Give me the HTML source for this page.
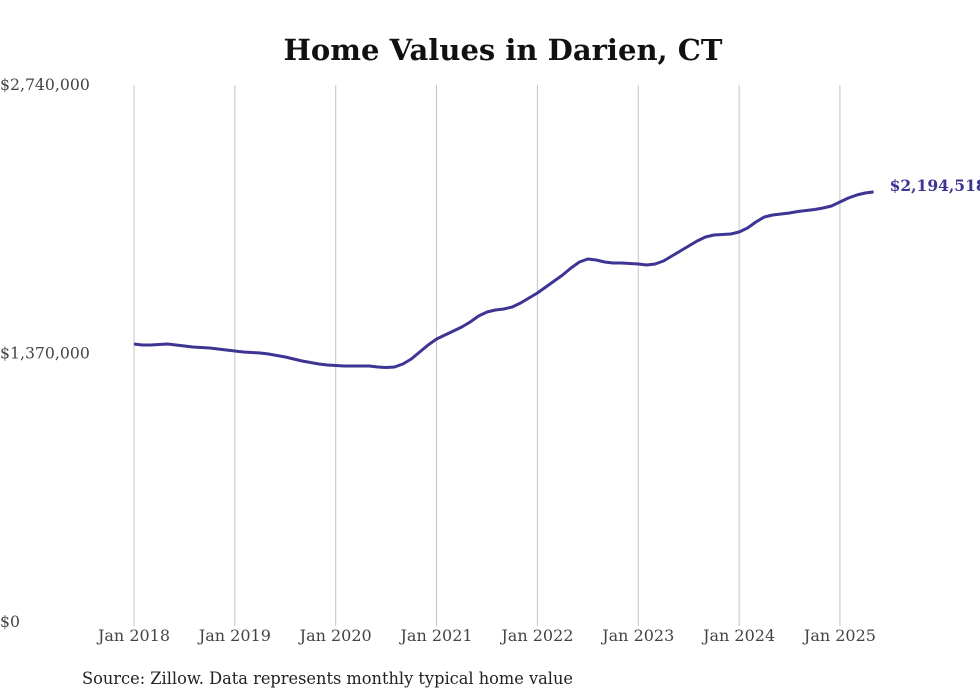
<!DOCTYPE html>
<html><head><meta charset="utf-8"><style>
html,body{margin:0;padding:0;background:#fff;width:980px;height:699px;overflow:hidden}
svg text{font-family:"DejaVu Serif","Liberation Serif",serif}
</style></head><body>
<svg id="chart" width="980" height="699" viewBox="0 0 980 699">
<text x="503" y="60" text-anchor="middle" font-size="29" font-weight="bold" fill="#111" textLength="439" lengthAdjust="spacingAndGlyphs">Home Values in Darien, CT</text>
<g id="grid"></g>
<g id="yticks"></g>
<g id="xticks"></g>
<path id="line" fill="none" stroke="#3d3494" stroke-width="3" stroke-linejoin="round"/>
<text id="endlabel" font-size="15.5" font-weight="bold" fill="#3d3494"></text>
<text x="82" y="684" font-size="16.3" fill="#222" textLength="491" lengthAdjust="spacingAndGlyphs">Source: Zillow. Data represents monthly typical home value</text>
</svg>
<script>
const startYear = 2018;
const xTickLabels = ["Jan 2018","Jan 2019","Jan 2020","Jan 2021","Jan 2022","Jan 2023","Jan 2024","Jan 2025"];
const yTickValues = [0, 1370000, 2740000];
const yTickLabels = ["$0","$1,370,000","$2,740,000"];
const values = [
1418500,1413400,1413400,1415900,1418500,1413400,1408300,1403200,1400600,1398100,1393000,1387900,
1382700,1377600,1375100,1372500,1367400,1359800,1352100,1341900,1331700,1324100,1316400,1311300,
1308800,1306200,1306200,1306200,1306200,1301100,1298600,1301100,1316400,1341900,1377600,1413400,
1444000,1464400,1484800,1505200,1530700,1561300,1581700,1592000,1597100,1607300,1627700,1653200,
1678700,1709300,1740000,1770500,1806200,1836900,1852200,1847100,1836900,1831800,1831800,1829200,
1826700,1821600,1826700,1842000,1867500,1893000,1918500,1944000,1964400,1974600,1977200,1979700,
1989900,2010300,2041000,2066500,2076700,2081800,2086900,2094500,2099600,2104700,2112400,2122600,
2143000,2163400,2178700,2188900,2194518
];
const endLabel = "$2,194,518";
const svgNS="http://www.w3.org/2000/svg";
const x0=134, pxPerYear=100.85, yBase=622, yTop=85, yMax=2740000;
const xScale = i => x0 + i*pxPerYear/12;
const yScale = v => yBase - v/yMax*(yBase-yTop);
const grid=document.getElementById('grid'), xt=document.getElementById('xticks'), yt=document.getElementById('yticks');
xTickLabels.forEach((lab,k)=>{
  const x=xScale(k*12);
  const l=document.createElementNS(svgNS,'line');
  l.setAttribute('x1',x);l.setAttribute('x2',x);l.setAttribute('y1',yTop);l.setAttribute('y2',yBase+4);
  l.setAttribute('stroke','#c4c4c4');l.setAttribute('stroke-width','1');
  
  
  grid.appendChild(l);
  const t=document.createElementNS(svgNS,'text');
  t.setAttribute('x',x);t.setAttribute('y',641);t.setAttribute('text-anchor','middle');
  t.setAttribute('font-size','16');t.setAttribute('fill','#444');t.textContent=lab;
  
  
  xt.appendChild(t);
});
yTickValues.forEach((v,k)=>{
  const t=document.createElementNS(svgNS,'text');
  t.setAttribute('x',0);t.setAttribute('y',yScale(v)+5);
  t.setAttribute('font-size','15.7');t.setAttribute('fill','#444');t.textContent=yTickLabels[k];
  
  
  yt.appendChild(t);
});
let d='';
values.forEach((v,i)=>{d+=(i?'L':'M')+xScale(i).toFixed(1)+','+yScale(v).toFixed(1);});
document.getElementById('line').setAttribute('d',d);
const last=values.length-1, el=document.getElementById('endlabel');
el.setAttribute('x',xScale(last)+16);el.setAttribute('y',yScale(values[last])-1);el.textContent=endLabel;
</script>
</body></html>
